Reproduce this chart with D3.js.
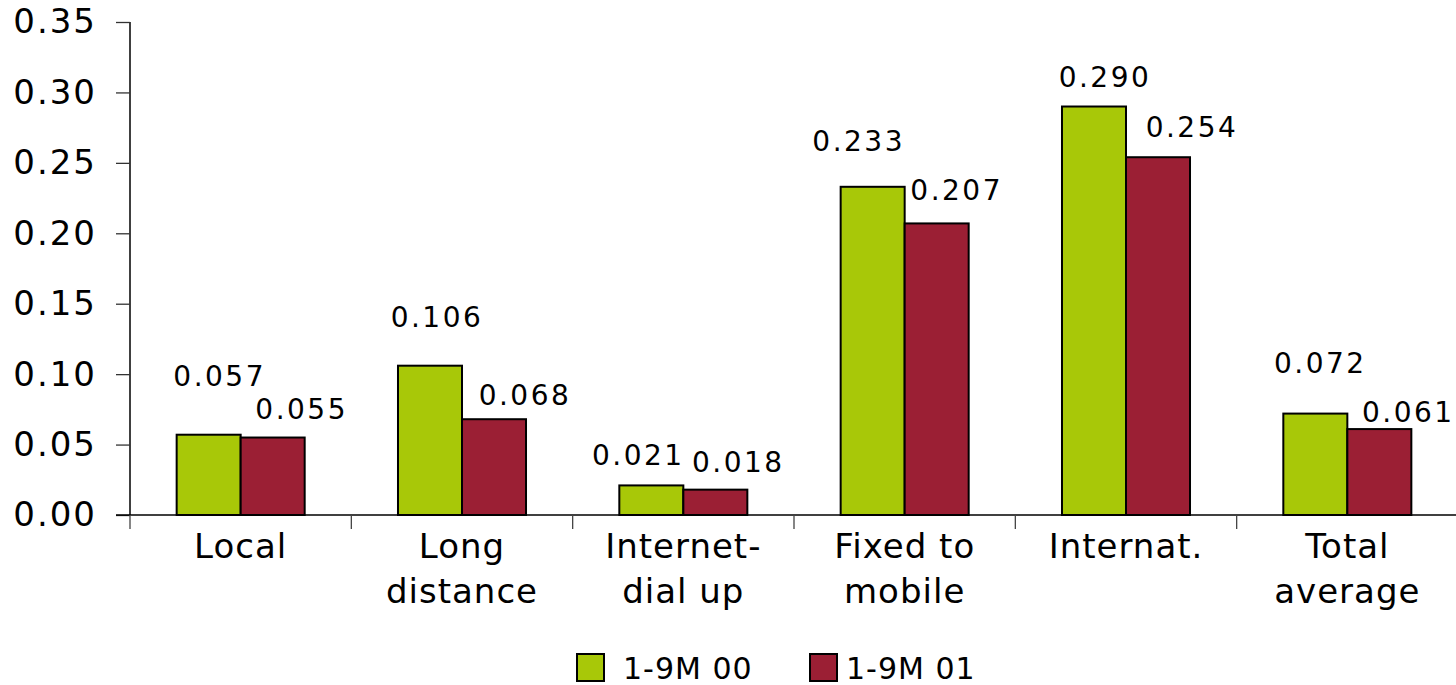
<!DOCTYPE html>
<html>
<head>
<meta charset="utf-8">
<script src="https://cdn.jsdelivr.net/npm/d3@7"></script>
<style>
  html, body { margin: 0; padding: 0; background: #fff; }
  svg { display: block; font-family: "DejaVu Sans", Verdana, sans-serif; }
</style>
</head>
<body>
<svg id="chart" width="1456" height="685"></svg>
<script>
// Average price per minute by call type
const categories = [["Local"], ["Long", "distance"], ["Internet-", "dial up"], ["Fixed to", "mobile"], ["Internat."], ["Total", "average"]];
const seriesNames = ["1-9M 00", "1-9M 01"];
const values2000 = [0.057, 0.106, 0.021, 0.233, 0.290, 0.072];
const values2001 = [0.055, 0.068, 0.018, 0.207, 0.254, 0.061];
const yTicks = [0, 0.05, 0.10, 0.15, 0.20, 0.25, 0.30, 0.35];

const colors = ["#a8c808", "#9b1f34"];

// hand-placed label offsets (px) for each series' value labels
const labelDx = [[11, 7, -13, -14, 11, 5], [29, 31, 23, 20, 34, 29]];
const labelDy = [[-49, -39, -20, -36, -20, -41], [-19, -14, -18, -23, -20, -7]];

const svg = d3.select("#chart");
const x0 = 130, x1 = 1458, yTop = 22, yBase = 515;

const y = d3.scaleLinear().domain([0, 0.35]).range([yBase, yTop]);
const idx = d3.range(categories.length);
const x = d3.scaleBand().domain(idx).range([x0, x1]).paddingInner(0.4216).paddingOuter(0.2108);
const xs = d3.scaleBand().domain([0, 1]).range([0, x.bandwidth()]);

const series = [values2000, values2001];

// Y axis
const yAxis = svg.append("g").attr("transform", `translate(${x0},0)`)
  .call(d3.axisLeft(y).tickValues(yTicks).tickFormat(d3.format(".2f")).tickSize(14).tickPadding(19));
yAxis.select(".domain").attr("stroke", "#000").attr("stroke-width", 1.5).attr("d", `M0,${yTop}V${yBase}`);
yAxis.selectAll(".tick line").attr("stroke", "#333").attr("stroke-width", 1.3);
yAxis.selectAll(".tick text").attr("font-size", 34).attr("fill", "#000")
  .attr("letter-spacing", 2).attr("font-family", "DejaVu Sans, Verdana, sans-serif");

// Bars
series.forEach((vals, s) => {
  svg.append("g").selectAll("rect").data(vals).join("rect")
    .attr("x", (d, i) => x(i) + xs(s))
    .attr("y", d => y(d))
    .attr("width", xs.bandwidth())
    .attr("height", d => yBase - y(d))
    .attr("fill", colors[s])
    .attr("stroke", "#000")
    .attr("stroke-width", 2);
});

// X axis line and category ticks
const xAxis = svg.append("g");
xAxis.append("line").attr("x1", x0 - 14).attr("x2", 1456).attr("y1", yBase).attr("y2", yBase)
  .attr("stroke", "#000").attr("stroke-width", 1.5);
xAxis.selectAll("line.cat").data(d3.range(categories.length + 1)).join("line")
  .attr("class", "cat")
  .attr("x1", i => x0 + i * x.step()).attr("x2", i => x0 + i * x.step())
  .attr("y1", yBase).attr("y2", yBase + 14)
  .attr("stroke", "#444").attr("stroke-width", 1.3);

// Category labels
const catText = svg.append("g").selectAll("text").data(categories).join("text")
  .attr("x", (d, i) => x(i) + x.bandwidth() / 2)
  .attr("y", yBase + 43)
  .attr("text-anchor", "middle")
  .attr("font-size", 34)
  .attr("letter-spacing", 1)
  .attr("fill", "#000");
catText.selectAll("tspan").data(d => d).join("tspan")
  .attr("x", function () { return d3.select(this.parentNode).attr("x"); })
  .attr("dy", (d, j) => j === 0 ? 0 : 45)
  .text(d => d);

// Value labels
series.forEach((vals, s) => {
  svg.append("g").selectAll("text").data(vals).join("text")
    .attr("x", (d, i) => x(i) + xs(s) + xs.bandwidth() / 2 + labelDx[s][i])
    .attr("y", (d, i) => y(d) + labelDy[s][i])
    .attr("text-anchor", "middle")
    .attr("font-size", 28)
    .attr("letter-spacing", 2.5)
    .attr("fill", "#000")
    .text(d => d3.format(".3f")(d));
});

// Legend
const legendX = [577, 810];
const legend = svg.append("g");
seriesNames.forEach((name, s) => {
  legend.append("rect")
    .attr("x", legendX[s]).attr("y", 654).attr("width", 27).attr("height", 27)
    .attr("fill", colors[s]).attr("stroke", "#000").attr("stroke-width", 2);
  legend.append("text")
    .attr("x", legendX[s] + (s === 0 ? 46 : 36)).attr("y", 679)
    .attr("font-size", 30).attr("letter-spacing", 1).attr("fill", "#000")
    .text(name);
});
</script>
</body>
</html>
